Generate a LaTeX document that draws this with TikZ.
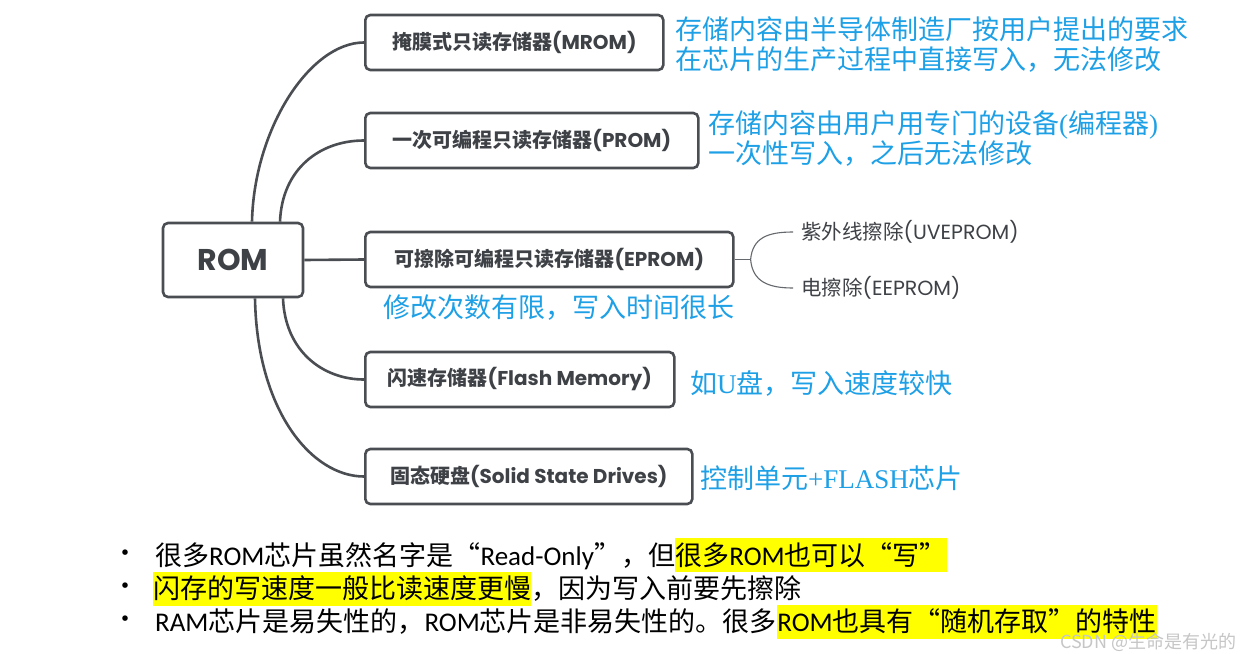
\documentclass[tikz,border=0pt]{standalone}
\usepackage{fontspec}
\setmainfont{Noto Sans CJK SC}
\newfontfamily\popfont{Poppins}
\newfontfamily\calfont{Carlito}
\newfontfamily\serfont{Liberation Serif}
\newfontfamily\fwfont{Noto Sans CJK SC}[RawFeature=+fwid]
\usepackage{tikz}
\usetikzlibrary{positioning}

\definecolor{boxgray}{HTML}{4A4D52}
\definecolor{txtgray}{HTML}{3E4146}
\definecolor{noteblue}{HTML}{1EA0E6}
\definecolor{hlyellow}{HTML}{FFFF00}

\newcommand{\openq}{{\fwfont “}}
\newcommand{\closeq}{{\fwfont ”}}
\newcommand{\poplat}[1]{{\popfont #1}}
\newcommand{\calat}[1]{{\calfont #1}}
\newcommand{\serlat}[1]{{\serfont #1}}

\begin{document}
\begin{tikzpicture}[x=1pt, y=-1pt,
    box/.style={draw=boxgray, line width=2.6pt, rounded corners=5pt, fill=white,
        text=txtgray, font=\fontsize{20}{22}\selectfont\bfseries,
        minimum height=55pt, inner xsep=0pt, anchor=west},
    link/.style={draw=boxgray, line width=2.6pt},
    sublink/.style={draw=boxgray!85, line width=1.1pt},
    subtext/.style={text=txtgray, font=\fontsize{20.5}{22}\selectfont, anchor=west, inner sep=0pt},
    note/.style={text=noteblue, font=\fontsize{27}{30}\selectfont, anchor=west, inner sep=0pt, align=left},
    bline/.style={font=\fontsize{27}{30}\selectfont, inner xsep=0pt, inner ysep=3pt,
        text height=24pt, text depth=4pt},
    hl/.style={bline, fill=hlyellow},
    dot/.style={font=\fontsize{26}{26}\selectfont, inner sep=0pt},
    wmark/.style={text=gray!45, font=\fontsize{18}{20}\selectfont, anchor=west, inner sep=0pt}]

    \fill[white] (0,0) rectangle (1255,653);
    \useasboundingbox (0,0) rectangle (1255,653);

    % mind map
    \node[box, anchor=center, minimum width=140pt, minimum height=74pt,
        font=\fontsize{30}{32}\selectfont\bfseries] (rom) at (233,260) {\poplat{ROM}};
    \node[box, minimum width=298pt] (mrom) at (364,42.5) {掩膜式只读存储器\poplat{(MROM)}};
    \node[box, minimum width=333pt] (prom) at (364,140.5) {一次可编程只读存储器\poplat{(PROM)}};
    \node[box, minimum width=368pt] (eprom) at (364,259.5) {可擦除可编程只读存储器\poplat{(EPROM)}};
    \node[box, minimum width=309pt] (flash) at (364,379.5) {闪速存储器\poplat{(Flash Memory)}};
    \node[box, minimum width=327pt] (ssd) at (364,476.5) {固态硬盘\poplat{(Solid State Drives)}};

    \draw[link] ([xshift=19pt]rom.north) .. controls +(2,-93) and +(-54,0) .. (mrom.west);
    \draw[link] ([xshift=47pt]rom.north) .. controls +(2,-53) and +(-44,0) .. (prom.west);
    \draw[link] (rom.east) -- (eprom.west);
    \draw[link] ([xshift=50pt]rom.south) .. controls +(2,53) and +(-41,0) .. (flash.west);
    \draw[link] ([xshift=22pt]rom.south) .. controls +(2,113) and +(-52,0) .. (ssd.west);

    % EPROM sub-branches
    \node[subtext, inner xsep=8pt] (uv) at (793,232) {紫外线擦除\poplat{(UVEPROM)}};
    \node[subtext, inner xsep=8pt] (ee) at (793,288) {电擦除\poplat{(EEPROM)}};
    \coordinate (fork) at ([xshift=16pt]eprom.east);
    \draw[sublink] (eprom.east) -- (fork);
    \draw[sublink] (fork) .. controls +(2,-22) and +(-25,0) .. (uv.west);
    \draw[sublink] (fork) .. controls +(2,22) and +(-25,0) .. (ee.west);

    % notes
    \node[note] (n1) at (675,45) {存储内容由半导体制造厂按用户提出的要求\\在芯片的生产过程中直接写入，无法修改};
    \node[note] (n2) at (708,139) {存储内容由用户用专门的设备\serlat{(}编程器\serlat{)}\\一次性写入，之后无法修改};
    \node[note] (n3) at (383,308) {修改次数有限，写入时间很长};
    \node[note] (n4) at (690,383) {如\serlat{U}盘，写入速度较快};
    \node[note] (n5) at (700,478) {控制单元\serlat{+FLASH}芯片};

    % bullet list
    \node[dot] (d1) at (125,556) {•};
    \node[dot] (d2) at (125,589) {•};
    \node[dot] (d3) at (125,622) {•};
    \node[bline, anchor=west] (l1a) at (155,555) {很多\calat{ROM}芯片虽然名字是\openq\calat{Read-Only}\closeq，但};
    \node[hl, right=0pt of l1a] (l1b) {很多\calat{ROM}也可以\openq 写\closeq};
    \node[hl, anchor=west] (l2a) at (153,588.5) {闪存的写速度一般比读速度更慢};
    \node[bline, right=0pt of l2a] (l2b) {，因为写入前要先擦除};
    \node[bline, anchor=west] (l3a) at (155,621.5) {\calat{RAM}芯片是易失性的，\calat{ROM}芯片是非易失性的。很多};
    \node[hl, right=0pt of l3a] (l3b) {\calat{ROM}也具有\openq 随机存取\closeq 的特性};

    \node[wmark] (wm) at (1060,642) {CSDN @生命是有光的};
\end{tikzpicture}
\end{document}
